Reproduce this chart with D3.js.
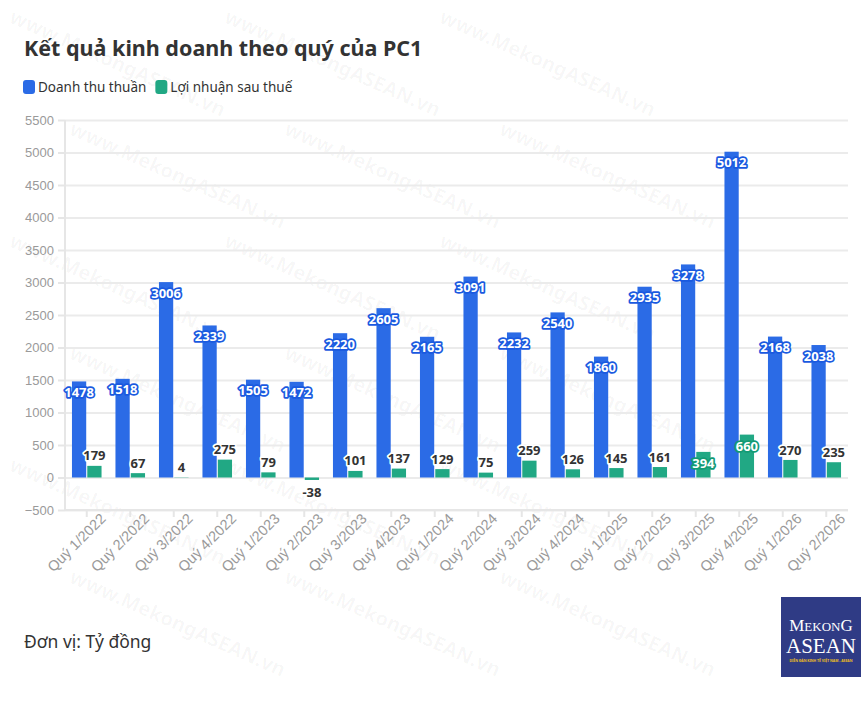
<!DOCTYPE html>
<html>
<head>
<meta charset="utf-8">
<script src="https://cdn.jsdelivr.net/npm/d3@7"></script>
<style>
  html, body { margin: 0; padding: 0; background: #fff; }
  svg { display: block; font-family: "Noto Sans", sans-serif; }
  .grid line { stroke: #ebebeb; stroke-width: 2; }
  .grid path { display: none; }
  .axis text { fill: #9a9a9a; font-size: 13px; }
  .axis path, .axis line { stroke: #e6e6e6; stroke-width: 2; }
</style>
</head>
<body>
<svg id="chart" width="868" height="703"></svg>
<script>
var quarters = ["Quý 1/2022", "Quý 2/2022", "Quý 3/2022", "Quý 4/2022", "Quý 1/2023", "Quý 2/2023",
                "Quý 3/2023", "Quý 4/2023", "Quý 1/2024", "Quý 2/2024", "Quý 3/2024", "Quý 4/2024",
                "Quý 1/2025", "Quý 2/2025", "Quý 3/2025", "Quý 4/2025", "Quý 1/2026", "Quý 2/2026"];
var revenue = [1478, 1518, 3006, 2339, 1505, 1472, 2220, 2605, 2165, 3091, 2232, 2540, 1860, 2935, 3278, 5012, 2168, 2038];
var profit = [179, 67, 4, 275, 79, -38, 101, 137, 129, 75, 259, 126, 145, 161, 394, 660, 270, 235];
var seriesNames = ["Doanh thu thuần", "Lợi nhuận sau thuế"];
var seriesColors = ["#2b6be6", "#21a884"];
var labelStrokes = ["#1a5ae0", "#139a74"];
var yTicks = [-500, 0, 500, 1000, 1500, 2000, 2500, 3000, 3500, 4000, 4500, 5000, 5500];
// profit labels that sit inside their bar
var profitInside = ["Quý 3/2025", "Quý 4/2025"];

var svg = d3.select("#chart"),
    margin = {top: 120, right: 20, bottom: 193, left: 65},
    width = 868 - margin.left - margin.right,
    height = 703 - margin.top - margin.bottom;

// faint watermark tiles, kept inside the picture
var wm = svg.append("g").attr("class", "watermark");
for (var r = 0; r < 6; r++) {
  for (var c = 0; c < 4; c++) {
    var wx = 8 + c * 215 + (r % 2 ? 60 : 0);
    if (wx + 225 > 862) continue;
    wm.append("text")
        .attr("transform", "translate(" + wx + "," + (22 + r * 112) + ") rotate(24)")
        .attr("fill", "#000")
        .attr("fill-opacity", 0.035)
        .style("font", "bold 20px 'Noto Sans', sans-serif")
        .text("www.MekongASEAN.vn");
  }
}

var g = svg.append("g").attr("transform", "translate(" + margin.left + "," + margin.top + ")");

var x0 = d3.scaleBand().domain(quarters).range([0, width]).padding(0),
    x1 = d3.scaleBand().domain(seriesNames)
        .range([x0.bandwidth() * 0.16, x0.bandwidth() * 0.84]).paddingInner(0.07),
    y = d3.scaleLinear().domain([-500, 5500]).range([height, 0]);

// Grid
g.append("g")
    .attr("class", "grid")
    .call(d3.axisLeft(y).tickValues(yTicks).tickSize(-width).tickFormat(""));

// Axes
g.append("g")
    .attr("class", "axis axis--y")
    .call(d3.axisLeft(y).tickValues(yTicks).tickSize(7).tickPadding(4).tickFormat(d3.format("d")))
    .select(".domain").attr("d", "M0," + height + "V0");

var xAxis = g.append("g")
    .attr("class", "axis axis--x")
    .attr("transform", "translate(0," + height + ")")
    .call(d3.axisBottom(x0).tickSize(7).tickSizeOuter(0));
xAxis.select(".domain").attr("d", "M0,0H" + width);
xAxis.selectAll("text")
    .attr("text-anchor", "end")
    .attr("dx", "0.5em")
    .attr("dy", "0.75em")
    .attr("transform", "rotate(-45)")
    .attr("fill", "#a8a8a8")
    .style("font-size", "14.5px");

// Bars
var rows = quarters.map(function(q, i) {
  return { q: q, values: [ { s: 0, v: revenue[i] }, { s: 1, v: profit[i] } ] };
});

var grp = g.selectAll(".quarter")
  .data(rows)
  .enter().append("g")
    .attr("class", "quarter")
    .attr("transform", function(d) { return "translate(" + x0(d.q) + ",0)"; });

grp.selectAll("rect")
  .data(function(d) { return d.values; })
  .enter().append("rect")
    .attr("x", function(d) { return x1(seriesNames[d.s]); })
    .attr("width", x1.bandwidth())
    .attr("y", function(d) { return y(Math.max(0, d.v)); })
    .attr("height", function(d) { return Math.abs(y(d.v) - y(0)); })
    .attr("fill", function(d) { return seriesColors[d.s]; });

// Value labels
grp.selectAll("text.value")
  .data(function(d) { return d.values.map(function(v) { return { s: v.s, v: v.v, q: d.q }; }); })
  .enter().append("text")
    .attr("class", "value")
    .attr("x", function(d) { return x1(seriesNames[d.s]) + x1.bandwidth() / 2; })
    .attr("y", function(d) {
      if (d.s === 0) return y(d.v) + 11;
      if (profitInside.indexOf(d.q) >= 0) return y(d.v) + 12;
      if (d.v < 0) return y(d.v) + 12;
      return y(d.v) - 10;
    })
    .attr("dy", "0.35em")
    .attr("text-anchor", "middle")
    .style("font", "bold 13px 'Noto Sans', sans-serif")
    .style("paint-order", "stroke")
    .attr("stroke-width", 3.5)
    .attr("stroke-linejoin", "round")
    .attr("stroke", function(d) {
      if (d.s === 0) return labelStrokes[0];
      return profitInside.indexOf(d.q) >= 0 ? labelStrokes[1] : "#fff";
    })
    .attr("fill", function(d) {
      if (d.s === 0) return "#fff";
      return profitInside.indexOf(d.q) >= 0 ? "#fff" : "#333";
    })
    .text(function(d) { return d.v; });

// Title
svg.append("text")
    .attr("x", 24)
    .attr("y", 56)
    .attr("fill", "#333")
    .style("font", "bold 21.5px 'Noto Sans', sans-serif")
    .text("Kết quả kinh doanh theo quý của PC1");

// Legend
var legend = svg.append("g").attr("transform", "translate(23,80)");
var lx = 0;
seriesNames.forEach(function(name, i) {
  var item = legend.append("g").attr("transform", "translate(" + lx + ",0)");
  item.append("rect").attr("width", 12).attr("height", 14).attr("rx", 3)
      .attr("fill", seriesColors[i]);
  var t = item.append("text").attr("x", 15).attr("y", 12)
      .attr("fill", "#333")
      .style("font", "13.5px 'Noto Sans', sans-serif")
      .text(name);
  lx += 15 + t.node().getComputedTextLength() + 9;
});

// Unit note
svg.append("text")
    .attr("x", 24)
    .attr("y", 648)
    .attr("fill", "#333")
    .style("font", "17.5px 'Noto Sans', sans-serif")
    .text("Đơn vị: Tỷ đồng");

// Logo
var logo = svg.append("g").attr("transform", "translate(781,597)");
logo.append("rect").attr("width", 80).attr("height", 80).attr("fill", "#2f3b85");
var mk = logo.append("text").attr("x", 40).attr("y", 34).attr("text-anchor", "middle")
    .attr("fill", "#fff").style("font", "13px 'Liberation Serif', serif");
mk.append("tspan").style("font-size", "17px").text("M");
mk.append("tspan").text("EKON");
mk.append("tspan").style("font-size", "17px").text("G");
logo.append("text").attr("x", 40).attr("y", 56).attr("text-anchor", "middle")
    .attr("fill", "#fff").style("font", "21px 'Liberation Serif', serif")
    .text("ASEAN");
logo.append("text").attr("x", 40).attr("y", 65).attr("text-anchor", "middle")
    .attr("fill", "#f0c020").style("font", "bold 3.4px 'Noto Sans', sans-serif")
    .text("DIỄN ĐÀN KINH TẾ VIỆT NAM - ASEAN");
</script>
</body>
</html>
